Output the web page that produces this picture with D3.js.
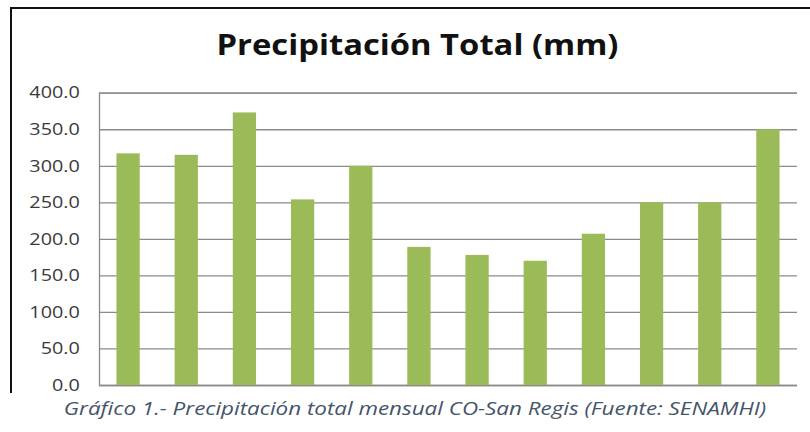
<!DOCTYPE html>
<html>
<head>
<meta charset="utf-8">
<script src="https://cdn.jsdelivr.net/npm/d3@7"></script>
<style>
  html, body { margin: 0; padding: 0; background: #fff; }
  svg { display: block; }
</style>
</head>
<body>
<svg id="chart" width="810" height="432"></svg>
<script>
// Monthly totals, January to December
const months = ["Ene", "Feb", "Mar", "Abr", "May", "Jun", "Jul", "Ago", "Set", "Oct", "Nov", "Dic"];
const precipitation = [317, 315, 373, 254, 300, 189, 178, 170, 207, 250, 250, 350];
const yTicks = [0, 50, 100, 150, 200, 250, 300, 350, 400];
const titleText = "Precipitación Total (mm)";
const captionText = "Gráfico 1.- Precipitación total mensual CO-San Regis (Fuente: SENAMHI)";

const svg = d3.select("#chart");
const plot = { left: 99, right: 797, top: 92.7, bottom: 385 };
const stretch = 1.15; // text is set slightly wide

// Chart frame (left and top edges visible)
svg.append("path")
  .attr("d", `M11,393 V8 H812`)
  .attr("fill", "none")
  .attr("stroke", "#111")
  .attr("stroke-width", 2);

// Title
svg.append("text")
  .attr("transform", `translate(417.5,55) scale(${stretch},1)`)
  .attr("text-anchor", "middle")
  .attr("font-family", "'Open Sans', sans-serif")
  .attr("font-weight", "bold")
  .attr("font-size", 28.5)
  .attr("fill", "#111")
  .text(titleText);

const x = d3.scaleBand()
  .domain(months)
  .range([plot.left, plot.right])
  .paddingInner(0.6)
  .paddingOuter(0.3);

const y = d3.scaleLinear()
  .domain([0, 400])
  .range([plot.bottom, plot.top]);

// Horizontal gridlines + y labels
const yAxis = d3.axisLeft(y)
  .tickValues(yTicks)
  .tickFormat(d3.format(".1f"))
  .tickSize(-(plot.right - plot.left))
  .tickPadding(16);

const gy = svg.append("g")
  .attr("transform", `translate(${plot.left},0)`)
  .call(yAxis);
gy.select(".domain").attr("stroke", "#8a8a8a").attr("stroke-width", 1.3);
gy.selectAll(".tick line").attr("stroke", "#8a8a8a").attr("stroke-width", 1.3);
gy.selectAll(".tick text")
  .attr("transform", "scale(1.2,1)")
  .attr("font-family", "'Open Sans', sans-serif")
  .attr("font-size", 16.5)
  .attr("fill", "#3a3a3a");

// Bars
svg.append("g")
  .selectAll("rect")
  .data(precipitation)
  .join("rect")
  .attr("x", (d, i) => x(months[i]))
  .attr("width", x.bandwidth())
  .attr("y", d => y(d))
  .attr("height", d => y(0) - y(d))
  .attr("fill", "#9BBB59");

// Caption
svg.append("text")
  .attr("transform", `translate(415,415) scale(1.18,1)`)
  .attr("text-anchor", "middle")
  .attr("font-family", "'Open Sans', sans-serif")
  .attr("font-style", "italic")
  .attr("font-size", 19)
  .attr("fill", "#44546A")
  .text(captionText);
</script>
</body>
</html>
